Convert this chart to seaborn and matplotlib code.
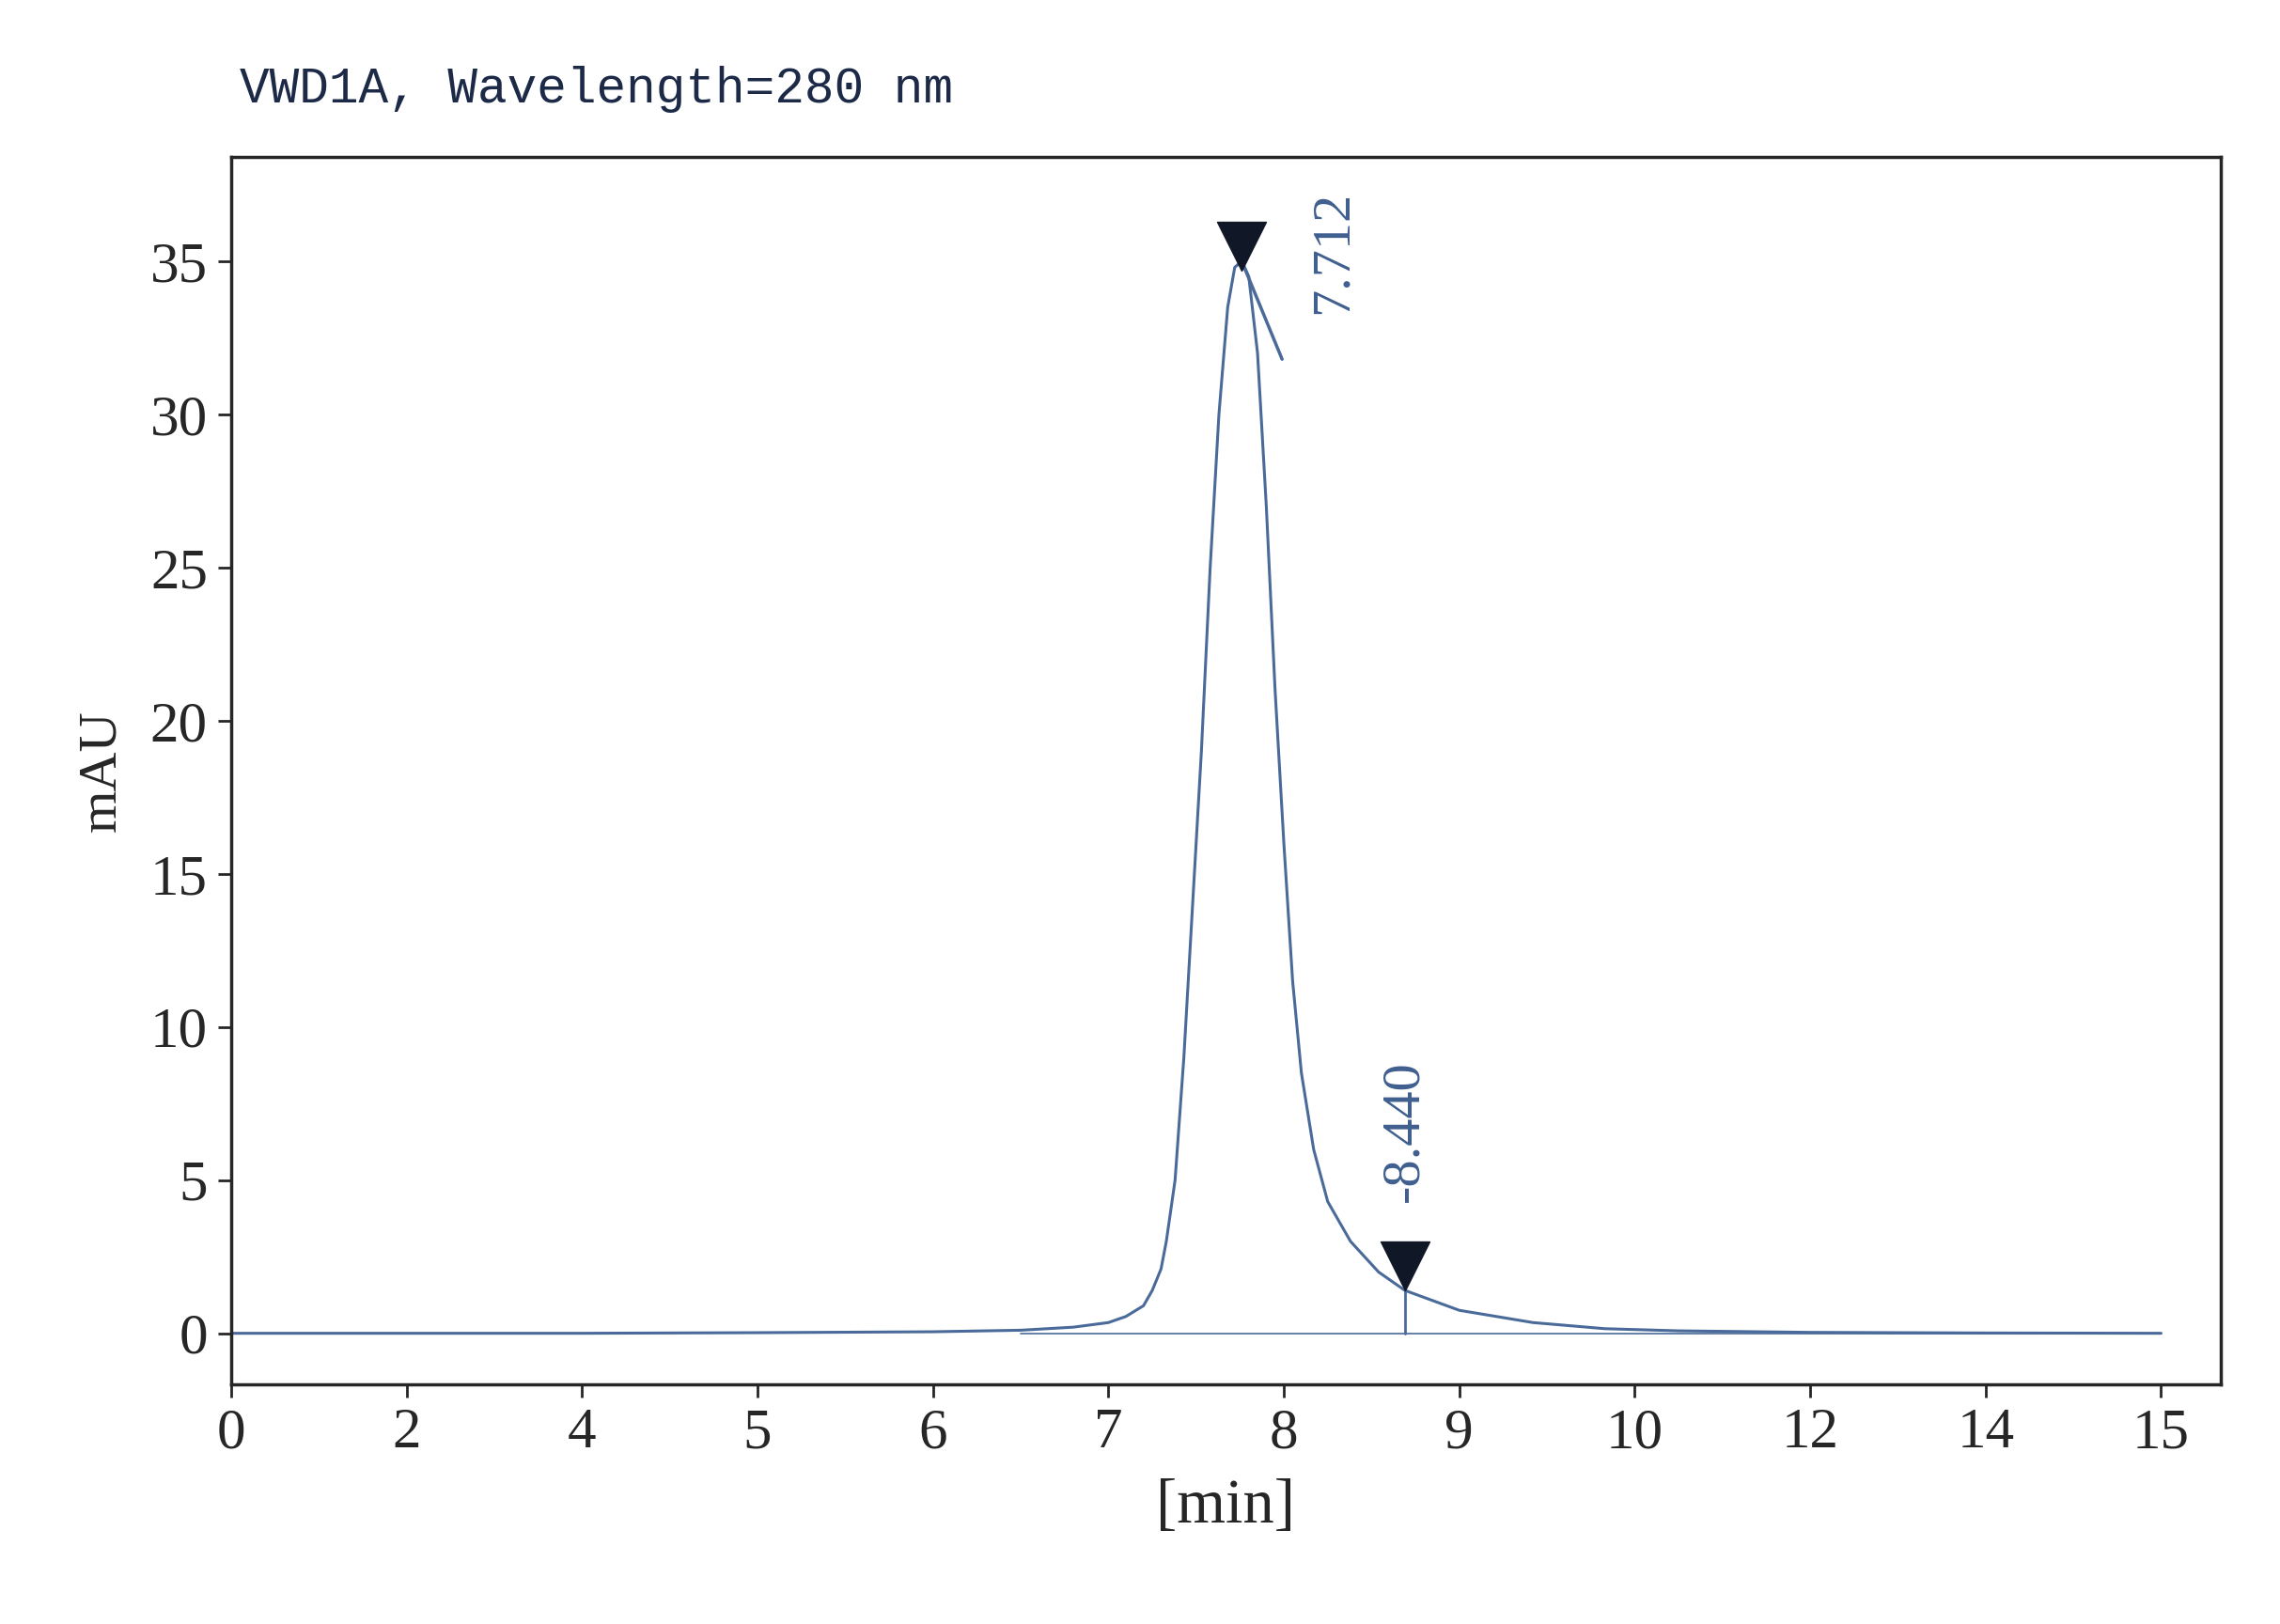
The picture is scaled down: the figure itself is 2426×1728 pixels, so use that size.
import numpy as np
import matplotlib
matplotlib.use("Agg")
import matplotlib.pyplot as plt
import seaborn as sns
import pandas as pd

sns.set_style("ticks")
plt.rcParams['font.family'] = ['Liberation Serif', 'DejaVu Serif']

# axis tick values (non-linear time axis of the instrument export)
tick_times = [0, 2, 4, 5, 6, 7, 8, 9, 10, 12, 14, 15]
tick_labels = ["0", "2", "4", "5", "6", "7", "8", "9", "10", "12", "14", "15"]
y_ticks = [0, 5, 10, 15, 20, 25, 30, 35]

# chromatogram samples
time_min = [0, 2, 4, 5, 6, 6.5, 6.8, 7.0, 7.1, 7.2, 7.25, 7.3, 7.33, 7.38, 7.43, 7.48, 7.53, 7.58,
            7.63, 7.68, 7.72, 7.76, 7.8, 7.85, 7.9, 7.95, 8.0, 8.05, 8.1, 8.17, 8.25, 8.38,
            8.54, 8.69, 9.0, 9.42, 9.83, 10.5, 12, 14, 15]
mau = [0, 0, 0, 0.02, 0.05, 0.1, 0.2, 0.35, 0.55, 0.9, 1.4, 2.1, 3.0, 5.0, 9.0, 14.0, 19.0, 25.0,
       30.0, 33.5, 34.8, 35.0, 34.5, 32.0, 27.0, 21.0, 16.0, 11.5, 8.5, 6.0, 4.3, 3.0,
       2.0, 1.4, 0.75, 0.35, 0.15, 0.08, 0.03, 0.01, 0.0]
peak_times = [7.76, 8.69]
peak_heights = [35.0, 1.4]
peak_labels = ["7.712", "-8.440"]

pos = np.arange(len(tick_times), dtype=float)
pos_ext = np.append(pos, pos[-1] + 10)
tt_ext = np.append(np.array(tick_times, float), 25.0)
def fwd(t):
    return np.interp(t, tt_ext, pos_ext)
def inv(u):
    return np.interp(u, pos_ext, tt_ext)

df = pd.DataFrame({"t": time_min, "y": mau})
fig = plt.figure(figsize=(24.26, 17.28), dpi=100)
ax = fig.add_axes([0.1014, 0.1477, 0.8726, 0.7556])
ax.set_xscale('function', functions=(fwd, inv))
lc = "#4a6a9a"
sns.lineplot(data=df, x="t", y="y", ax=ax, color=lc, lw=2.2)
ax.plot([6.5, 15], [0, 0], color=lc, lw=1.2)

ax.set_xlim(0, 15.34)
ax.set_ylim(-1.66, 38.4)
ax.set_xticks(tick_times)
ax.set_xticklabels(tick_labels)
ax.set_yticks(y_ticks)
ax.tick_params(labelsize=44, length=10, width=2, pad=8)
for s in ax.spines.values():
    s.set_linewidth(2.5)
ax.set_xlabel("[min]", fontsize=48, labelpad=14)
ax.set_ylabel("mAU", fontsize=42, labelpad=18)

tc = "#3f5f8f"
# peak 1
ax.plot([peak_times[0], 7.99], [peak_heights[0], 31.8], color=lc, lw=2.5)
ax.scatter([peak_times[0]], [35.5], marker="v", s=1400, color="#101828", zorder=5)
ax.text(8.28, 35.3, peak_labels[0], rotation=90, ha="center", va="center", fontsize=42, color=tc)
# peak 2
ax.plot([peak_times[1], peak_times[1]], [0, peak_heights[1]], color=lc, lw=2)
ax.scatter([peak_times[1]], [2.2], marker="v", s=1400, color="#101828", zorder=5)
ax.text(peak_times[1], 6.6, peak_labels[1], rotation=90, ha="center", va="center", fontsize=42, color=tc)

fig.text(0.105, 0.945, "VWD1A, Wavelength=280 nm", fontsize=38, color="#1c2a48",
         family=["Liberation Mono", "DejaVu Sans Mono"], va="center")
fig.savefig("out.png", dpi=100)
